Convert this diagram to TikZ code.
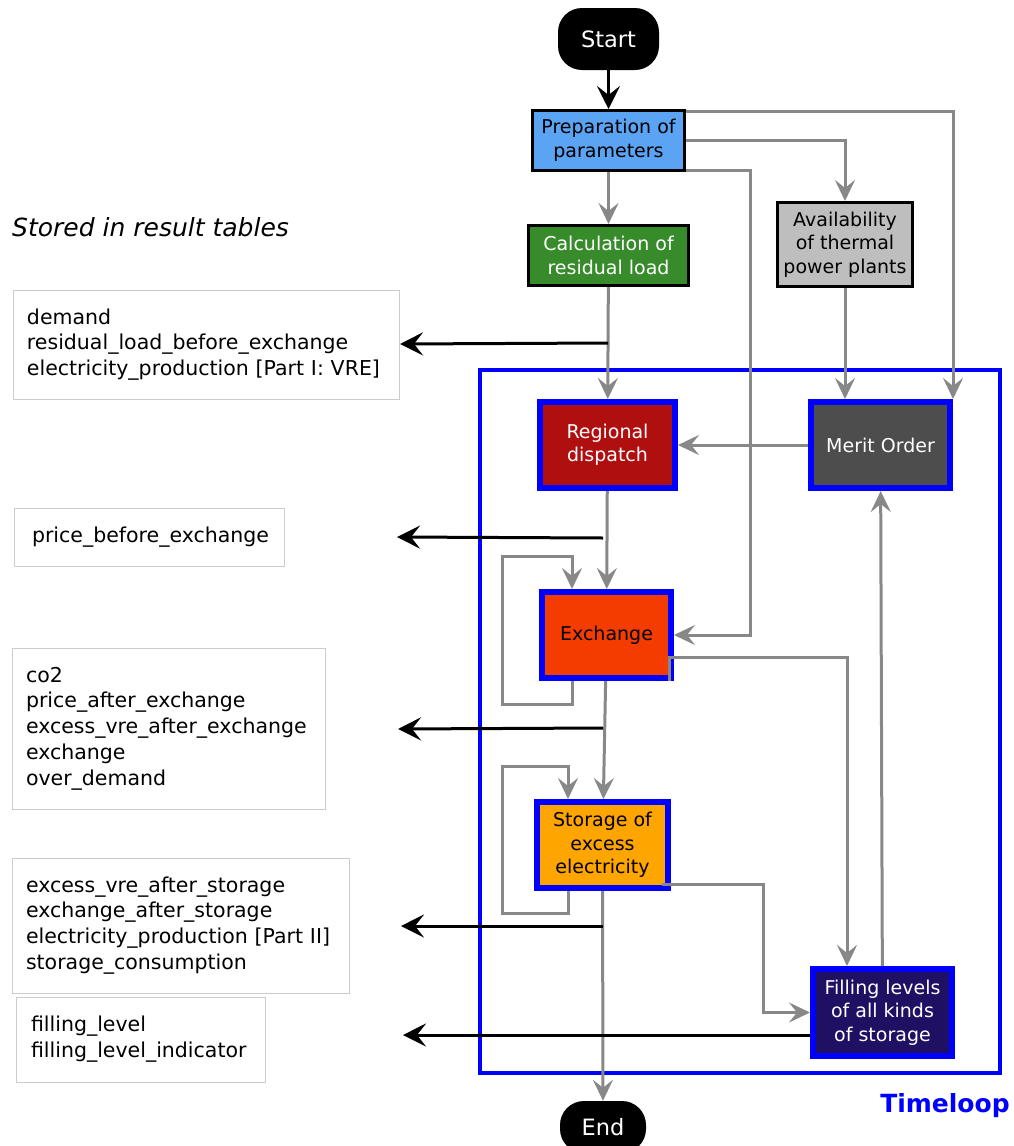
\documentclass[tikz,border=0pt]{standalone}
\usepackage{fontspec}
\setmainfont{DejaVu Sans}
\usetikzlibrary{arrows.meta}
\definecolor{prepblue}{HTML}{5BA3F3}
\definecolor{calcgreen}{HTML}{378B2B}
\definecolor{availgray}{HTML}{BEBEBE}
\definecolor{dispred}{HTML}{B00F10}
\definecolor{meritgray}{HTML}{4D4D4D}
\definecolor{exred}{HTML}{F53C00}
\definecolor{storeorange}{HTML}{FFA500}
\definecolor{fillnavy}{HTML}{1F1063}
\definecolor{flowgray}{HTML}{888888}
\definecolor{resgray}{HTML}{CCCCCC}

\begin{document}
\begin{tikzpicture}
            [x=1pt,y=-1pt,every node/.style={align=center,font=\fontsize{19}{23.5}\selectfont},
             proc/.style={draw=black,line width=3pt,inner sep=2pt},
             loopbox/.style={draw=blue,line width=6pt,inner sep=2pt,minimum height=86pt},
             term/.style={fill=black,text=white,rounded corners=24pt,font=\fontsize{22.5}{27}\selectfont},
             result/.style={draw=resgray,line width=1pt,align=left,inner xsep=14pt,inner ysep=0pt,font=\fontsize{20.5}{25.8}\selectfont},
             flow/.style={draw=flowgray,line width=3pt,-{Stealth[length=21pt,width=20pt,inset=8pt]}},
             store/.style={draw=black,line width=3pt,-{Stealth[length=23pt,width=23pt,inset=9pt]}}]
            \useasboundingbox (0,0) rectangle (1014,1146);
            \draw[blue,line width=4pt] (480,370) rectangle (1000,1073);
            \node[text=blue,font=\bfseries\fontsize{25}{30}\selectfont] (timeloop) at (945,1106) {Timeloop};
            \node[anchor=west,inner sep=0pt,font=\itshape\fontsize{25}{30}\selectfont] (title) at (12,227) {Stored in result tables};

            \node[term,minimum width=101pt,minimum height=62pt] (start) at (608.5,39) {Start};
            \node[proc,fill=prepblue,minimum width=152pt,minimum height=60pt] (prep) at (608.5,140.5) {Preparation of\\parameters};
            \node[proc,fill=calcgreen,text=white,minimum width=160pt,minimum height=60pt] (calc) at (608.5,255.5) {Calculation of\\residual load};
            \node[proc,fill=availgray,minimum width=135pt,minimum height=84pt] (avail) at (845,244.5) {Availability\\of thermal\\power plants};
            \node[loopbox,fill=dispred,text=white,minimum width=135pt] (dispatch) at (607.5,445) {Regional\\dispatch};
            \node[loopbox,fill=meritgray,text=white,minimum width=139pt] (merit) at (880.5,445) {Merit Order};
            \node[loopbox,fill=exred,minimum width=129pt] (exchange) at (606.5,635) {Exchange};
            \node[loopbox,fill=storeorange,minimum width=131pt] (storage) at (602.5,845) {Storage of\\excess\\electricity};
            \node[loopbox,fill=fillnavy,text=white,minimum width=139pt,minimum height=87pt] (filling) at (882.5,1012.5) {Filling levels\\of all kinds\\of storage};
            \node[term,minimum width=86pt,minimum height=52pt] (end) at (603,1127) {End};

            \node[result,text width=358pt,minimum height=109pt] (res1) at (206,344.5) {demand\\residual\_load\_before\_exchange\\electricity\_production [Part I: VRE]};
            \node[result,text width=234pt,inner xsep=18pt,minimum height=58pt] (res2) at (149,537) {price\_before\_exchange};
            \node[result,text width=285pt,minimum height=161pt] (res3) at (168.5,728.5) {co2\\price\_after\_exchange\\excess\_vre\_after\_exchange\\exchange\\over\_demand};
            \node[result,text width=309pt,minimum height=135pt] (res4) at (180.5,925.5) {excess\_vre\_after\_storage\\exchange\_after\_storage\\electricity\_production [Part II]\\storage\_consumption};
            \node[result,text width=219pt,inner xsep=15pt,minimum height=85pt] (res5) at (140.5,1039.5) {filling\_level\\filling\_level\_indicator};

            \coordinate (exloop) at (502,556);
            \coordinate (exbend) at (847,657);
            \coordinate (stloop) at (502,766);
            \coordinate (stbend) at (763,884);
            \coordinate (out1) at (608,343);
            \coordinate (out2) at (603,538);
            \coordinate (out3) at (603,728);
            \coordinate (out4) at (603,926);
            \coordinate (in1) at (400,344);
            \coordinate (in2) at (397,537);
            \coordinate (in3) at (398,729);
            \coordinate (in4) at (401,926);
            \coordinate (in5) at (403,1035);

            \draw[store] (start) -- (prep);
            \draw[flow] (prep) -- (calc);
            \draw[flow] (prep.east) -| (avail.north);
            \draw[flow] ([yshift=-2pt]prep.north east) -| (merit.north east);
            \draw[flow] ([yshift=1.5pt]prep.south east) -- ++(64,0) |- (exchange.east);
            \draw[flow] (calc) -- (dispatch);
            \draw[flow] (avail.south) -- (avail.south |- merit.north);
            \draw[flow] (merit) -- (dispatch);
            \draw[flow] (dispatch) -- (exchange);
            \draw[flow] ([xshift=-34.5pt]exchange.south) -- ++(0,23) -| (exloop) -| ([xshift=-34.5pt]exchange.north);
            \draw[flow] (exchange) -- (storage);
            \draw[flow] ([xshift=-5pt]exchange.south east) |- (exbend) -- (exbend |- filling.north);
            \draw[flow] ([xshift=-34.5pt]storage.south) -- ++(0,22) -| (stloop) -| ([xshift=-34.5pt]storage.north);
            \draw[flow] (storage) -- (end);
            \draw[flow] ([xshift=-9pt,yshift=7pt]storage.south east) -- (stbend) |- (filling.west);
            \draw[flow] (filling) -- (merit);

            \draw[store] (out1) -- (in1);
            \draw[store] (out2) -- (in2);
            \draw[store] (out3) -- (in3);
            \draw[store] (out4) -- (in4);
            \draw[store] ([yshift=-22.5pt]filling.west) -- (in5);

        \end{tikzpicture}
\end{document}
